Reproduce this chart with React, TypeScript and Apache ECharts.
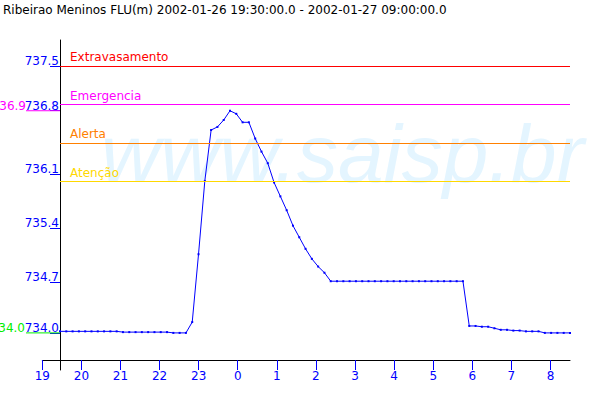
import React, { useEffect, useRef } from "react";
import * as echarts from "echarts";

const stationName = "Ribeirao Meninos FLU(m)";
const periodStart = "2002-01-26 19:30:00.0";
const periodEnd = "2002-01-27 09:00:00.0";

// readings every 10 minutes, 19:30 -> 09:00
const firstReading = "19:30";
const stepMinutes = 10;
const levels = [
  734.06, 734.06, 734.06, 734.06, 734.06, 734.06, 734.06, 734.06, 734.06, 734.06,
  734.05, 734.05, 734.05, 734.05, 734.05, 734.05, 734.05, 734.05,
  734.04, 734.04, 734.04,
  734.18, 735.06, 736.01, 736.67, 736.71, 736.8, 736.92, 736.88, 736.77, 736.77,
  736.56, 736.39, 736.24, 735.99, 735.81, 735.63, 735.43, 735.28, 735.13, 735.0,
  734.9, 734.82,
  734.71, 734.71, 734.71, 734.71, 734.71, 734.71, 734.71, 734.71, 734.71, 734.71, 734.71,
  734.71, 734.71, 734.71, 734.71, 734.71, 734.71, 734.71, 734.71, 734.71, 734.71, 734.71,
  734.13, 734.13, 734.12, 734.12, 734.1, 734.08, 734.08, 734.07, 734.07, 734.06,
  734.06, 734.06, 734.04, 734.04, 734.04, 734.04, 734.04,
];

const thresholdNames = ["Extravasamento", "Emergencia", "Alerta", "Atenção"];
const thresholdValues = [737.5, 737.0, 736.5, 736.0];
const thresholdColors = ["#ff0000", "#ff00ff", "#ff8000", "#ffd800"];

const yTickValues = [734.04, 734.7, 735.4, 736.1, 736.92, 737.5];
const yTickLabels = ["734.0", "734.7", "735.4", "736.1", "736.8", "737.5"];

const hourLabels = ["19", "20", "21", "22", "23", "0", "1", "2", "3", "4", "5", "6", "7", "8"];

const FONT = "DejaVu Sans";
const BLUE = "#0000ff";

function buildTimes(): string[] {
  const [h, m] = firstReading.split(":").map(Number);
  const start = h * 60 + m;
  return levels.map((_, i) => {
    const t = (start + i * stepMinutes) % (24 * 60);
    const hh = String(Math.floor(t / 60)).padStart(2, "0");
    const mm = String(t % 60).padStart(2, "0");
    return `${hh}:${mm}`;
  });
}

export default function App() {
  const ref = useRef<HTMLDivElement>(null);

  useEffect(() => {
    if (!ref.current) return;
    const chart = echarts.init(ref.current, null, { renderer: "svg" });
    const times = buildTimes();
    const hourTicks = hourLabels.map((_, i) => i);

    chart.setOption({
      animation: false,
      backgroundColor: "#ffffff",
      title: {
        text: `${stationName} ${periodStart} - ${periodEnd}`,
        left: 3,
        top: 4,
        padding: 0,
        textStyle: { fontSize: 12, fontWeight: "normal", color: "#000", fontFamily: FONT },
      },
      grid: [
        { left: 60, right: 30, top: 40, bottom: 30 },
        { left: 42.3, right: 30, top: 40, bottom: 40 },
      ],
      xAxis: [
        {
          type: "category",
          gridIndex: 0,
          data: times,
          boundaryGap: false,
          show: false,
        },
        {
          type: "value",
          gridIndex: 1,
          min: 0,
          max: 13.5,
          splitLine: { show: false },
          axisLine: { show: true, onZero: false, lineStyle: { color: "#000", width: 1 } },
          axisTick: { show: true, length: 10, lineStyle: { color: BLUE }, customValues: hourTicks },
          axisLabel: {
            customValues: hourTicks,
            formatter: (v: number) => hourLabels[Math.round(v)] ?? "",
            color: BLUE,
            fontSize: 12,
            fontFamily: FONT,
            margin: 10,
            lineHeight: 12,
          },
        },
      ],
      yAxis: [
        {
          type: "value",
          gridIndex: 0,
          min: 733.559,
          max: 737.837,
          splitLine: { show: false },
          axisLine: { show: true, onZero: false, lineStyle: { color: "#000", width: 1 } },
          axisTick: { show: true, length: 10, lineStyle: { color: BLUE }, customValues: yTickValues },
          axisLabel: {
            customValues: yTickValues,
            formatter: (v: number) => {
              let best = 0;
              yTickValues.forEach((t, i) => {
                if (Math.abs(t - v) < Math.abs(yTickValues[best] - v)) best = i;
              });
              return yTickLabels[best];
            },
            color: BLUE,
            fontSize: 12,
            fontFamily: FONT,
            margin: 1,
            verticalAlign: "bottom",
            lineHeight: 10,
          },
        },
        { type: "value", gridIndex: 1, show: false },
      ],
      series: [
        {
          type: "line",
          xAxisIndex: 0,
          yAxisIndex: 0,
          data: levels,
          symbol: "rect",
          symbolSize: 2,
          showSymbol: true,
          showAllSymbol: true,
          lineStyle: { color: BLUE, width: 1 },
          itemStyle: { color: BLUE },
          emphasis: { disabled: true },
          silent: true,
          markLine: {
            silent: true,
            symbol: "none",
            animation: false,
            data: thresholdValues.map((v, i) => ({
              yAxis: v,
              name: thresholdNames[i],
              lineStyle: { color: thresholdColors[i], type: "solid", width: 1 },
              label: {
                show: true,
                formatter: "{b}",
                position: "insideStartTop",
                distance: [10, 3],
                color: thresholdColors[i],
                fontSize: 12,
                fontFamily: FONT,
              },
            })),
          },
        },
      ],
    });

    const maxV = Math.max(...levels);
    const minV = Math.min(...levels);
    const yMaxPx = chart.convertToPixel({ yAxisIndex: 0 }, maxV) as number;
    const yMinPx = chart.convertToPixel({ yAxisIndex: 0 }, minV) as number;
    const axisX = chart.convertToPixel({ gridIndex: 0 }, [0, minV]) as number[];

    chart.setOption({
      graphic: [
        {
          type: "text",
          id: "wm",
          x: 101,
          y: 153,
          z: -10,
          silent: true,
          style: {
            text: "www.saisp.br",
            fill: "#e4f5ff",
            fontSize: 82,
            fontStyle: "italic",
            fontFamily: "Liberation Sans",
            verticalAlign: "middle",
          },
        },
        {
          type: "line",
          id: "maxLine",
          shape: { x1: 26, y1: yMaxPx, x2: axisX[0], y2: yMaxPx },
          style: { stroke: "#ff00ff", lineWidth: 1 },
          z: 1,
        },
        {
          type: "line",
          id: "minLine",
          shape: { x1: 26, y1: yMinPx, x2: axisX[0], y2: yMinPx },
          style: { stroke: "#00ee00", lineWidth: 1 },
          z: 1,
        },
        {
          type: "text",
          id: "maxText",
          x: 26,
          y: yMaxPx,
          style: {
            text: maxV.toFixed(1),
            fill: "#ff00ff",
            fontSize: 12,
            fontFamily: FONT,
            align: "right",
            verticalAlign: "bottom",
            lineHeight: 10,
          },
        },
        {
          type: "text",
          id: "minText",
          x: 25,
          y: yMinPx,
          style: {
            text: minV.toFixed(1),
            fill: "#00ee00",
            fontSize: 12,
            fontFamily: FONT,
            align: "right",
            verticalAlign: "bottom",
            lineHeight: 10,
          },
        },
      ],
    });

    return () => chart.dispose();
  }, []);

  return (
    <div
      ref={ref}
      style={{ position: "fixed", left: 0, top: 0, width: 600, height: 400, background: "#fff" }}
    />
  );
}
